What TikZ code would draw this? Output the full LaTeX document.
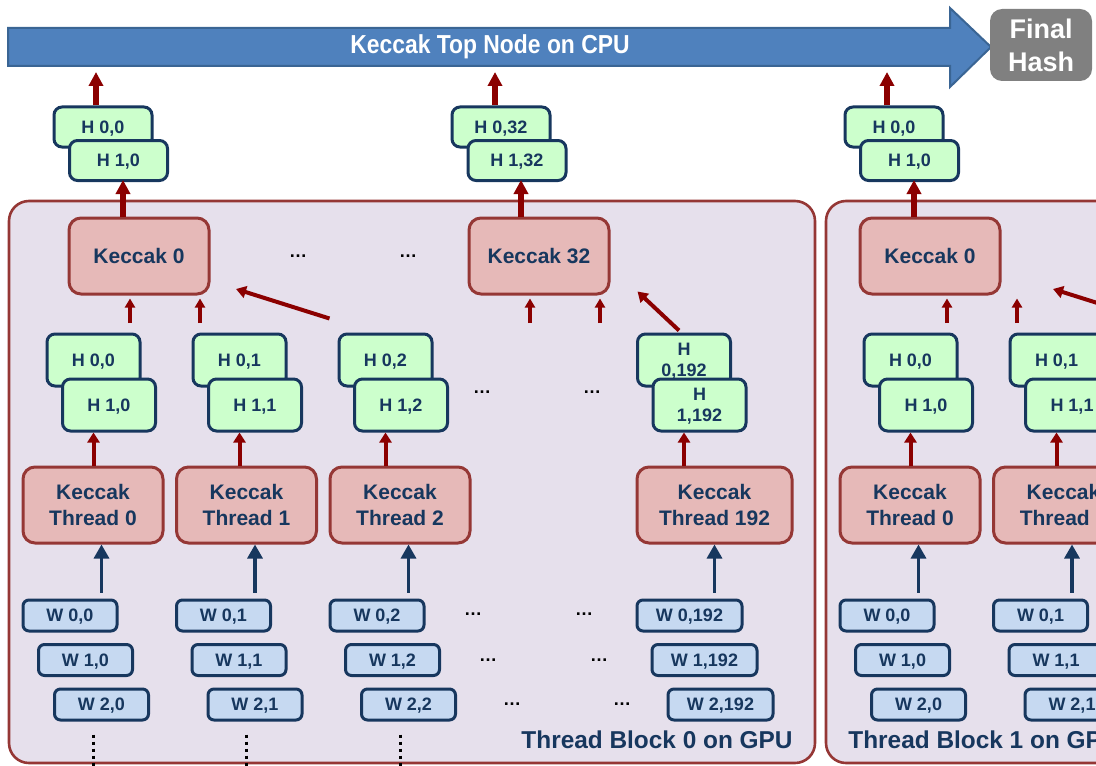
\documentclass[tikz,border=0pt]{standalone}
\usepackage{fontspec}
\setmainfont{Liberation Sans}
\newfontfamily\narrowsans[FakeStretch=0.88]{Liberation Sans}
\usetikzlibrary{arrows.meta}
\definecolor{navy}{HTML}{17375E}
\definecolor{brick}{HTML}{953735}
\definecolor{rose}{HTML}{E6B9B8}
\definecolor{mint}{HTML}{CCFFCC}
\definecolor{sky}{HTML}{C6D9F1}
\definecolor{lilac}{HTML}{E6E0EC}
\definecolor{barblue}{HTML}{4F81BD}
\definecolor{barline}{HTML}{3A6594}
\definecolor{arrowred}{HTML}{8B0000}
\definecolor{hashgray}{HTML}{808080}

\begin{document}
\begin{tikzpicture}[x=0.5pt,y=-0.5pt, % 1 unit = 1 px of the slide
  hbox/.style={draw=navy,fill=mint,line width=1.5pt,rounded corners=4pt,text=navy,
    font=\bfseries\fontsize{9}{10.5}\selectfont,align=center,inner sep=0pt,text depth=0pt},
  hup/.style={hbox,minimum width=49pt,minimum height=20pt},
  hlow/.style={hbox,minimum width=46.5pt,minimum height=26pt},
  wbox/.style={draw=navy,fill=sky,line width=1.5pt,rounded corners=3pt,text=navy,text depth=0pt,
    font=\bfseries\fontsize{9}{10}\selectfont,minimum width=47pt,minimum height=15.5pt,inner sep=0pt},
  kbox/.style={draw=brick,fill=rose,line width=1.5pt,rounded corners=6pt,text=navy,
    font=\bfseries\fontsize{10.5}{13}\selectfont,align=center,minimum width=70pt,minimum height=38pt,inner sep=0pt},
  block/.style={draw=brick,fill=lilac,line width=1.3pt,rounded corners=10pt},
  dotslabel/.style={font=\bfseries\fontsize{9}{10}\selectfont,inner sep=0pt},
  blocklabel/.style={text=navy,font=\bfseries\fontsize{12.2}{14}\selectfont,inner sep=0pt},
  rbig/.style={draw=arrowred,line width=2.6pt,-{Triangle[length=7pt,width=7pt]}},
  rmid/.style={draw=arrowred,line width=2pt,-{Triangle[length=5pt,width=6pt]}},
  rsmall/.style={draw=arrowred,line width=1.6pt,-{Triangle[length=4.5pt,width=5pt]}},
  barrow/.style={draw=navy,line width=1.6pt,-{Triangle[length=7pt,width=7.5pt]}}]
  \useasboundingbox (0,0) rectangle (1096,765);
  \clip (0,0) rectangle (1096,765);

  % top node on the CPU
  \filldraw[fill=barblue,draw=barline,line width=1pt] (8,28) -- (950,28) -- (950,8) -- (991,47)
    -- (950,87) -- (950,66) -- (8,66) -- cycle;
  \node[text=white,font=\narrowsans\bfseries\fontsize{13}{15}\selectfont] (cpu) at (490,47) {Keccak Top Node on CPU};
  \coordinate (cpubase) at (0,72);
  \node[fill=hashgray,rounded corners=6pt,minimum width=51pt,minimum height=36pt,text=white,
    font=\bfseries\fontsize{13.5}{16.5}\selectfont,align=center,inner sep=0pt] (final) at (1041,45) {Final\\Hash};

  % thread blocks
  \foreach \b/\ox/\kx in {0/0/0,1/817/791}{
    \draw[block] (\ox+9,201) rectangle (\ox+815,763);
    % block result
    \node[hup] (ta-\b) at (\kx+103,127) {H 0,0};
    \node[hup] (tb-\b) at (\kx+118.5,160.5) {H 1,0};
    \node[kbox] (kb-\b) at (\kx+139,256) {Keccak 0};
    \draw[rbig] ([xshift=-3.5pt]ta-\b.north) -- ([xshift=-3.5pt]ta-\b.north |- cpubase);
    \draw[rbig,shorten >=-1pt] ([xshift=-8pt]kb-\b.north) -- ([xshift=-8pt]kb-\b.north |- tb-\b.south);
    \coordinate (sa-\b) at (\ox+130,323);
    \coordinate (sb-\b) at (\ox+200,323);
    \draw[rsmall,shorten >=1.5pt] (sa-\b) -- (sa-\b |- kb-\b.south);
    \draw[rsmall,shorten >=1.5pt] (sb-\b) -- (sb-\b |- kb-\b.south);
    % threads
    \foreach \c in {0,1,2}{
      \pgfmathsetmacro\hx{\ox+93.5+146*\c}
      \pgfmathsetmacro\tx{\ox+93+153.5*\c}
      \pgfmathsetmacro\wx{\ox+70+153.5*\c}
      \node[hlow] (h0-\b-\c) at (\hx,360) {H 0,\c};
      \node[hlow] (h1-\b-\c) at (\hx+15.5,405) {H 1,\c};
      \node[kbox] (kt-\b-\c) at (\tx,505) {Keccak\\Thread \c};
      \node[wbox] (w0-\b-\c) at (\wx,615.5) {W 0,\c};
      \node[wbox] (w1-\b-\c) at (\wx+15.5,660) {W 1,\c};
      \node[wbox] (w2-\b-\c) at (\wx+31.5,704.5) {W 2,\c};
      \draw[rmid] (h0-\b-\c.center |- kt-\b-\c.north) -- (h0-\b-\c.center |- h1-\b-\c.south);
      \draw[barrow,shorten <=3pt] (w2-\b-\c.center |- w0-\b-\c.north) -- (w2-\b-\c.center |- kt-\b-\c.south);
      \ifnum\b=0
        \draw[line width=1.5pt,dotted] (kt-\b-\c.center |- w2-\b-\c.south) ++(0,13) -- ++(0,40);
      \fi
    }
    \draw[rmid] ([shift={(-8,-14)}]h0-\b-2.north west) -- ([shift={(27,-5)}]\ox+209,294);
  }

  % block 0: second group and last thread
  \node[hup] (ta-32) at (501,127) {H 0,32};
  \node[hup] (tb-32) at (517,160.5) {H 1,32};
  \node[kbox] (k32) at (539,256) {Keccak 32};
  \draw[rbig] ([xshift=-3pt]ta-32.north) -- ([xshift=-3pt]ta-32.north |- cpubase);
  \draw[rbig,shorten >=-1pt] ([xshift=-9pt]k32.north) -- ([xshift=-9pt]k32.north |- tb-32.south);
  \coordinate (sc) at (530,323);
  \coordinate (sd) at (600,323);
  \draw[rsmall,shorten >=1.5pt] (sc) -- (sc |- k32.south);
  \draw[rsmall,shorten >=1.5pt] (sd) -- (sd |- k32.south);

  \node[hlow] (h0-192) at (684,360) {H\\0,192};
  \node[hlow] (h1-192) at (699.5,405) {H\\1,192};
  \node[kbox,minimum width=77.5pt] (kt-192) at (714.5,505) {Keccak\\Thread 192};
  \node[wbox,minimum width=52.5pt] (w0-192) at (689.5,615.5) {W 0,192};
  \node[wbox,minimum width=52.5pt] (w1-192) at (704.5,660) {W 1,192};
  \node[wbox,minimum width=52.5pt] (w2-192) at (720.5,704.5) {W 2,192};
  \draw[rmid] (h0-192.center |- kt-192.north) -- (h0-192.center |- h1-192.south);
  \draw[barrow,shorten <=3pt] (kt-192.center |- w0-192.north) -- (kt-192.south);
  \draw[rmid] ([shift={(-5,-2)}]h0-192.north) -- ([shift={(27,-4)}]k32.south east);

  % gaps
  \node[dotslabel] (d1) at (298,256) {\dots};
  \node[dotslabel] (d2) at (408,256) {\dots};
  \node[dotslabel] (d3) at (482,392) {\dots};
  \node[dotslabel] (d4) at (592,392) {\dots};
  \node[dotslabel] (d5) at (473,614) {\dots};
  \node[dotslabel] (d6) at (584,614) {\dots};
  \node[dotslabel] (d7) at (488,660) {\dots};
  \node[dotslabel] (d8) at (599,660) {\dots};
  \node[dotslabel] (d9) at (512,704) {\dots};
  \node[dotslabel] (d10) at (622,704) {\dots};

  \node[blocklabel,anchor=base east] (lbl-0) at (793,748) {Thread Block 0 on GPU};
  \node[blocklabel,anchor=base west] (lbl-1) at (848,748) {Thread Block 1 on GPU};
\end{tikzpicture}
\end{document}
